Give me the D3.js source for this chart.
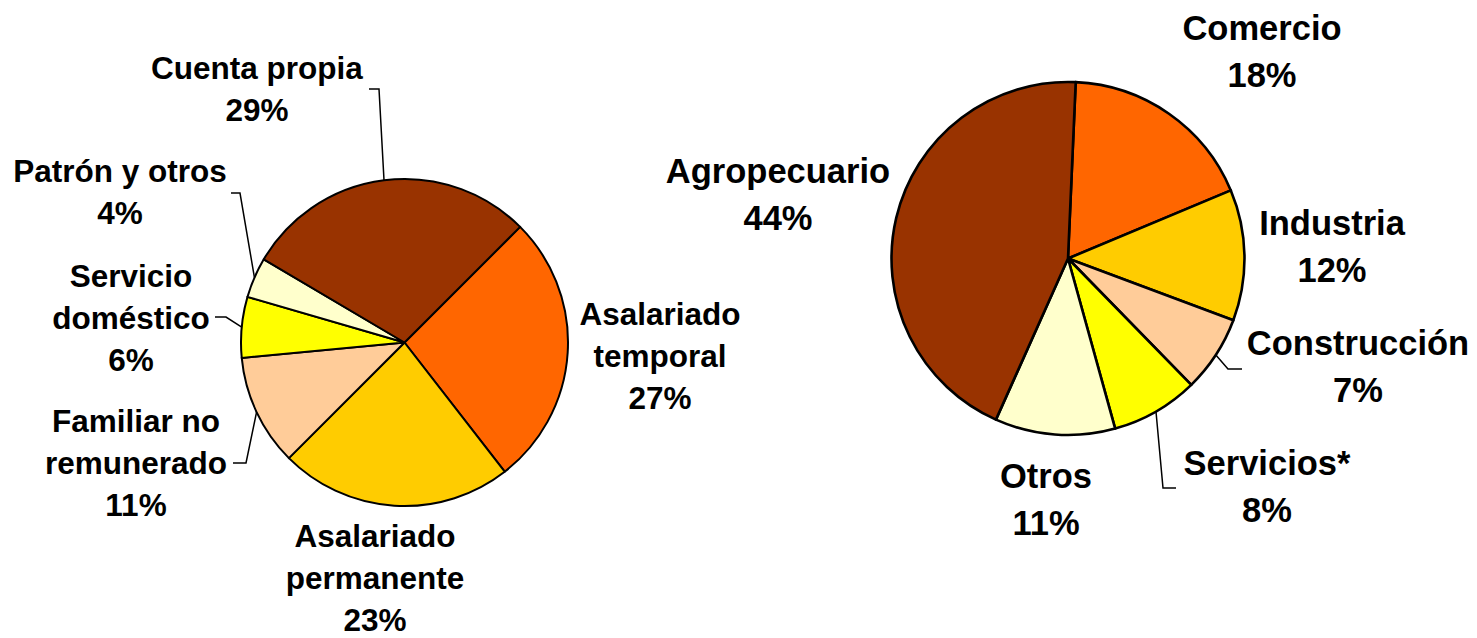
<!DOCTYPE html>
<html>
<head>
<meta charset="utf-8">
<script src="https://cdn.jsdelivr.net/npm/d3@7"></script>
<style>
    body { margin: 0; background: #ffffff; }
    svg { display: block; }
    text { font-family: "Liberation Sans", Arial, sans-serif; font-weight: bold; }
</style>
</head>
<body>
<svg id="drawing_region"></svg>
<script>
// Left pie: employment category
const left_categories = ['Asalariado\ntemporal', 'Asalariado\npermanente', 'Familiar no\nremunerado',
    'Servicio\ndoméstico', 'Patrón y otros', 'Cuenta propia'];
const left_values = [27, 23, 11, 6, 4, 29];

// Right pie: sector
const right_categories = ['Comercio', 'Industria', 'Construcción', 'Servicios*', 'Otros', 'Agropecuario'];
const right_values = [18, 12, 7, 8, 11, 44];

// same palette for both (order of slices, clockwise)
const left_colors = ['#FF6600', '#FFCC00', '#FFCC99', '#FFFF00', '#FFFFCC', '#993300'];
const right_colors = ['#FF6600', '#FFCC00', '#FFCC99', '#FFFF00', '#FFFFCC', '#993300'];

const svg = d3.select('#drawing_region')
    .attr('width', 1477)
    .attr('height', 638);

class PieChart {
    constructor(config, categories, values, colors) {
        this.config = config;
        this.data = categories.map((c, i) => ({ label: c, value: values[i], color: colors[i] }));
        this.init();
    }

    init() {
        let self = this;
        self.chart = svg.append('g')
            .attr('transform', `translate(${self.config.cx}, ${self.config.cy})`);

        self.pie = d3.pie()
            .sort(null)
            .value(d => d.value)
            .startAngle(self.config.start * Math.PI / 180)
            .endAngle(self.config.start * Math.PI / 180 + 2 * Math.PI);

        self.arc = d3.arc()
            .innerRadius(0)
            .outerRadius(self.config.radius);
    }

    render() {
        let self = this;
        const arcs = self.pie(self.data);

        // slices
        self.chart.selectAll('path.slice')
            .data(arcs)
            .enter()
            .append('path')
            .attr('class', 'slice')
            .attr('d', self.arc)
            .attr('fill', d => d.data.color)
            .attr('stroke', 'black')
            .attr('stroke-width', self.config.stroke)
            .attr('stroke-linejoin', 'round');

        // leader lines (only for labels that have an elbow)
        arcs.forEach((d, i) => {
            const lab = self.config.labels[i];
            if (!lab.leader) return;
            const a = (d.startAngle + d.endAngle) / 2;
            const r = self.config.radius;
            const edge = [self.config.cx + r * Math.sin(a), self.config.cy - r * Math.cos(a)];
            svg.append('path')
                .attr('d', d3.line()([edge].concat(lab.leader)))
                .attr('fill', 'none')
                .attr('stroke', 'black')
                .attr('stroke-width', 1.5);
        });

        // labels
        arcs.forEach((d, i) => {
            const lab = self.config.labels[i];
            const lines = d.data.label.split('\n').concat([d.data.value + '%']);
            const text = svg.append('text')
                .attr('x', lab.x)
                .attr('y', lab.y)
                .attr('text-anchor', 'middle')
                .attr('font-size', self.config.font_size + 'px')
                .attr('fill', 'black');
            lines.forEach((t, j) => {
                text.append('tspan')
                    .attr('x', lab.x)
                    .attr('y', lab.y + j * self.config.line_height)
                    .text(t);
            });
        });
    }
}

let left_chart = new PieChart({
    cx: 404.5, cy: 342.5, radius: 163.5, start: 45, stroke: 2,
    font_size: 31.5, line_height: 42,
    labels: [
        { x: 660, y: 325 },
        { x: 375, y: 547 },
        { x: 136, y: 432, leader: [[246, 463], [233, 463]] },
        { x: 131, y: 287, leader: [[226, 317], [215, 317]] },
        { x: 120, y: 182, leader: [[240, 193], [231, 193]] },
        { x: 257, y: 79, leader: [[379, 89], [369, 89]] },
    ]
}, left_categories, left_values, left_colors);
left_chart.render();

let right_chart = new PieChart({
    cx: 1068, cy: 258.5, radius: 176.5, start: 2.5, stroke: 2.6,
    font_size: 34.5, line_height: 46.5,
    labels: [
        { x: 1262, y: 40 },
        { x: 1332, y: 235 },
        { x: 1358, y: 355, leader: [[1228, 369], [1242, 369]] },
        { x: 1267, y: 475, leader: [[1163, 488], [1176, 488]] },
        { x: 1046, y: 488 },
        { x: 778, y: 183 },
    ]
}, right_categories, right_values, right_colors);
right_chart.render();
</script>
</body>
</html>
